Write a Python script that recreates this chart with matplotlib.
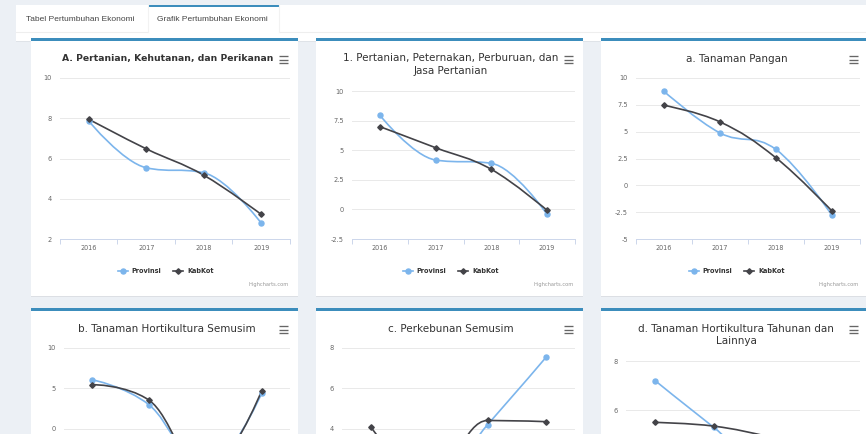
import numpy as np
import matplotlib
matplotlib.use("Agg")
import matplotlib.pyplot as plt
from matplotlib.patches import Rectangle, PathPatch
from matplotlib.path import Path

W, H = 866, 434

# ---------------------------------------------------------------- data

TABS = ["Tabel Pertumbuhan Ekonomi", "Grafik Pertumbuhan Ekonomi"]
YEARS = ["2016", "2017", "2018", "2019"]
SERIES = ["Provinsi", "KabKot"]

# growth (%); values hidden below the frame are guesses
A_PROV = [7.86, 5.54, 5.29, 2.79]
A_KAB = [7.95, 6.48, 5.17, 3.22]
P1_PROV = [7.95, 4.17, 3.89, -0.42]
P1_KAB = [6.99, 5.21, 3.38, -0.08]
PANGAN_PROV = [8.76, 4.88, 3.34, -2.79]
PANGAN_KAB = [7.45, 5.91, 2.56, -2.40]
HORTI_PROV = [6.06, 2.97, -5.0, 4.39]
HORTI_KAB = [5.45, 3.54, -5.5, 4.70]
KEBUN_PROV = [3.0, 1.0, 4.19, 7.53]
KEBUN_KAB = [4.06, 1.5, 4.40, 4.34]
HORTI_TH_PROV = [7.20, 5.31, 3.5, 4.0]
HORTI_TH_KAB = [5.51, 5.36, 4.9, 4.3]

TITLES = [
    ["A. Pertanian, Kehutanan, dan Perikanan"],
    ["1. Pertanian, Peternakan, Perburuan, dan", "Jasa Pertanian"],
    ["a. Tanaman Pangan"],
    ["b. Tanaman Hortikultura Semusim"],
    ["c. Perkebunan Semusim"],
    ["d. Tanaman Hortikultura Tahunan dan", "Lainnya"],
]
YTICKS = [
    [2, 4, 6, 8, 10],
    [-2.5, 0, 2.5, 5, 7.5, 10],
    [-5, -2.5, 0, 2.5, 5, 7.5, 10],
    [-10, -5, 0, 5, 10],
    [0, 2, 4, 6, 8],
    [2, 4, 6, 8],
]
PROV = [A_PROV, P1_PROV, PANGAN_PROV, HORTI_PROV, KEBUN_PROV, HORTI_TH_PROV]
KAB = [A_KAB, P1_KAB, PANGAN_KAB, HORTI_KAB, KEBUN_KAB, HORTI_TH_KAB]

# ---------------------------------------------------------------- layout (px)

CARDS = [(31, 38, 298), (316, 38, 583), (601, 38, 870),
         (31, 308, 298), (316, 308, 583), (601, 308, 870)]
PLOTS = [(60, 78, 290, 239), (352, 91, 575, 239), (636, 78, 860, 239),
         (64, 348, 290, 509), (342, 348, 575, 509), (626, 361, 860, 509)]
TITLE_X = [168, 451, 737, 167, 451, 736]

BG = "#ecf0f5"
BLUE_TOP = "#3c8dbc"
PROV_C = "#7cb5ec"
KAB_C = "#434348"
TXT = "#333333"
LBL = "#666666"


def hc_spline(ys, smoothing=1.5):
    """Highcharts-style spline through points at x = 0..n-1."""
    n = len(ys)
    xs = np.arange(n, dtype=float)
    ys = np.asarray(ys, dtype=float)
    denom = smoothing + 1
    left, right = [None] * n, [None] * n
    for i in range(1, n - 1):
        px, py = xs[i], ys[i]
        lx, ly = xs[i - 1], ys[i - 1]
        nx, ny = xs[i + 1], ys[i + 1]
        lcx, lcy = (smoothing * px + lx) / denom, (smoothing * py + ly) / denom
        rcx, rcy = (smoothing * px + nx) / denom, (smoothing * py + ny) / denom
        corr = (rcy - lcy) * (rcx - px) / (rcx - lcx) + py - rcy
        lcy += corr
        rcy += corr
        if lcy > ly and lcy > py:
            lcy = max(ly, py); rcy = 2 * py - lcy
        elif lcy < ly and lcy < py:
            lcy = min(ly, py); rcy = 2 * py - lcy
        if rcy > ny and rcy > py:
            rcy = max(ny, py); lcy = 2 * py - rcy
        elif rcy < ny and rcy < py:
            rcy = min(ny, py); lcy = 2 * py - rcy
        left[i], right[i] = (lcx, lcy), (rcx, rcy)
    verts, codes = [(xs[0], ys[0])], [Path.MOVETO]
    for i in range(1, n):
        c1 = right[i - 1] or (xs[i - 1], ys[i - 1])
        c2 = left[i] or (xs[i], ys[i])
        verts += [c1, c2, (xs[i], ys[i])]
        codes += [Path.CURVE4] * 3
    return Path(verts, codes)


fig = plt.figure(figsize=(W / 100, H / 100), dpi=100)
fig.patch.set_facecolor(BG)
bg = fig.add_axes([0, 0, 1, 1])
bg.set_xlim(0, W)
bg.set_ylim(H, 0)
bg.axis("off")


def px_axes(l, t, r, b):
    return fig.add_axes([l / W, 1 - b / H, (r - l) / W, (b - t) / H])


# ---------------------------------------------------------------- tab bar

bg.add_patch(Rectangle((16, 6), W, 36, fc="#dfe3e8", ec="none"))
bg.add_patch(Rectangle((16, 5), W, 36, fc="white", ec="none"))
bg.plot([16, 148], [32, 32], color="#eeeeee", lw=0.8)
bg.plot([279, W], [32, 32], color="#eeeeee", lw=0.8)
bg.plot([148, 148], [5, 32], color="#f2f2f2", lw=0.8)
bg.plot([279, 279], [5, 32], color="#f2f2f2", lw=0.8)
bg.add_patch(Rectangle((148, 4.5), 131, 2.2, fc=BLUE_TOP, ec="none"))
for x, label in zip([26, 157], TABS):
    bg.text(x, 19.5, label, fontsize=6.0, family="Liberation Sans", color="#444444",
            ha="left", va="center")

# ---------------------------------------------------------------- cards

for k, (cl, ct, cr) in enumerate(CARDS):
    row2 = k >= 3
    cb = min(ct + 258, H + 5)
    bg.add_patch(Rectangle((cl, ct + 1), cr - cl, cb - ct, fc="#dcdfe4", ec="none"))
    bg.add_patch(Rectangle((cl, ct), cr - cl, cb - ct, fc="white", ec="none"))
    bg.add_patch(Rectangle((cl, ct), cr - cl, 2.6, fc=BLUE_TOP, ec="none"))

    # title
    base = 61.5 + (270 if row2 else 0)
    for j, line in enumerate(TITLES[k]):
        bg.text(TITLE_X[k], base + 13 * j, line, ha="center", va="baseline",
                fontsize=6.7 if k == 0 else 7.5,
                fontweight="bold" if k == 0 else "normal", color=TXT)

    # context-menu button
    mx = cr - 15 if k % 3 != 2 else 853
    my = base - 2
    for dy in (-3.2, 0, 3.2):
        bg.plot([mx - 4.5, mx + 4.5], [my + dy, my + dy], color=LBL, lw=0.95,
                solid_capstyle="butt")

    # legend + credits sit below the frame for the second row
    if row2:
        continue
    cx = (cl + cr) / 2
    ly = 270.7
    bg.plot([cx - 47, cx - 37], [ly, ly], color=PROV_C, lw=1.2)
    bg.plot([cx - 42], [ly], marker="o", ms=3.6, color=PROV_C)
    bg.text(cx - 33, ly, SERIES[0], fontsize=4.7, fontweight="bold", color=TXT,
            ha="left", va="center")
    bg.plot([cx + 8.5, cx + 18.5], [ly, ly], color=KAB_C, lw=1.2)
    bg.plot([cx + 13.5], [ly], marker="D", ms=2.8, color=KAB_C)
    bg.text(cx + 22.5, ly, SERIES[1], fontsize=4.7, fontweight="bold", color=TXT,
            ha="left", va="center")
    pr = PLOTS[k][2]
    bg.text(pr - 1, ly + 14, "Highcharts.com", fontsize=3.7, color="#999999",
            ha="right", va="center")

# ---------------------------------------------------------------- charts

for k, (pl, pt, pr, pb) in enumerate(PLOTS):
    row2 = k >= 3
    ax = px_axes(pl, pt, pr, pb)
    ax.set_facecolor("none")
    ticks = YTICKS[k]
    ax.set_xlim(-0.5, len(YEARS) - 0.5)
    ax.set_ylim(ticks[0], ticks[-1])

    # only ticks that land inside the visible frame
    span = ticks[-1] - ticks[0]
    shown = [v for v in ticks if pt + (ticks[-1] - v) / span * (pb - pt) <= H - 3]
    ax.set_yticks(shown)
    ax.set_yticklabels([f"{v:g}" for v in shown])
    ax.yaxis.grid(True, color="#e9e9e9", lw=0.7)
    ax.set_axisbelow(True)
    ax.tick_params(axis="y", length=0, pad=5.8, labelsize=4.8, labelcolor=LBL)

    ax.set_xticks(np.arange(-0.5, len(YEARS)), labels=[""] * (len(YEARS) + 1))
    ax.set_xticks(np.arange(len(YEARS)), labels=[""] * len(YEARS) if row2 else YEARS,
                  minor=True)
    ax.tick_params(axis="x", which="major", length=3.6, width=0.7, color="#ccd6eb")
    ax.tick_params(axis="x", which="minor", length=0, pad=4.2, labelsize=4.7,
                   labelcolor=LBL)
    for side in ("left", "right", "top"):
        ax.spines[side].set_visible(False)
    ax.spines["bottom"].set_color("#ccd6eb")
    ax.spines["bottom"].set_linewidth(0.7)

    for vals, col, mk, ms in ((PROV[k], PROV_C, "o", 3.6), (KAB[k], KAB_C, "D", 2.8)):
        ax.add_patch(PathPatch(hc_spline(vals), fill=False, ec=col, lw=1.2))
        ax.plot(np.arange(len(vals)), vals, ls="none", marker=mk, ms=ms, color=col)

fig.savefig("out.png", dpi=100, facecolor=BG)
